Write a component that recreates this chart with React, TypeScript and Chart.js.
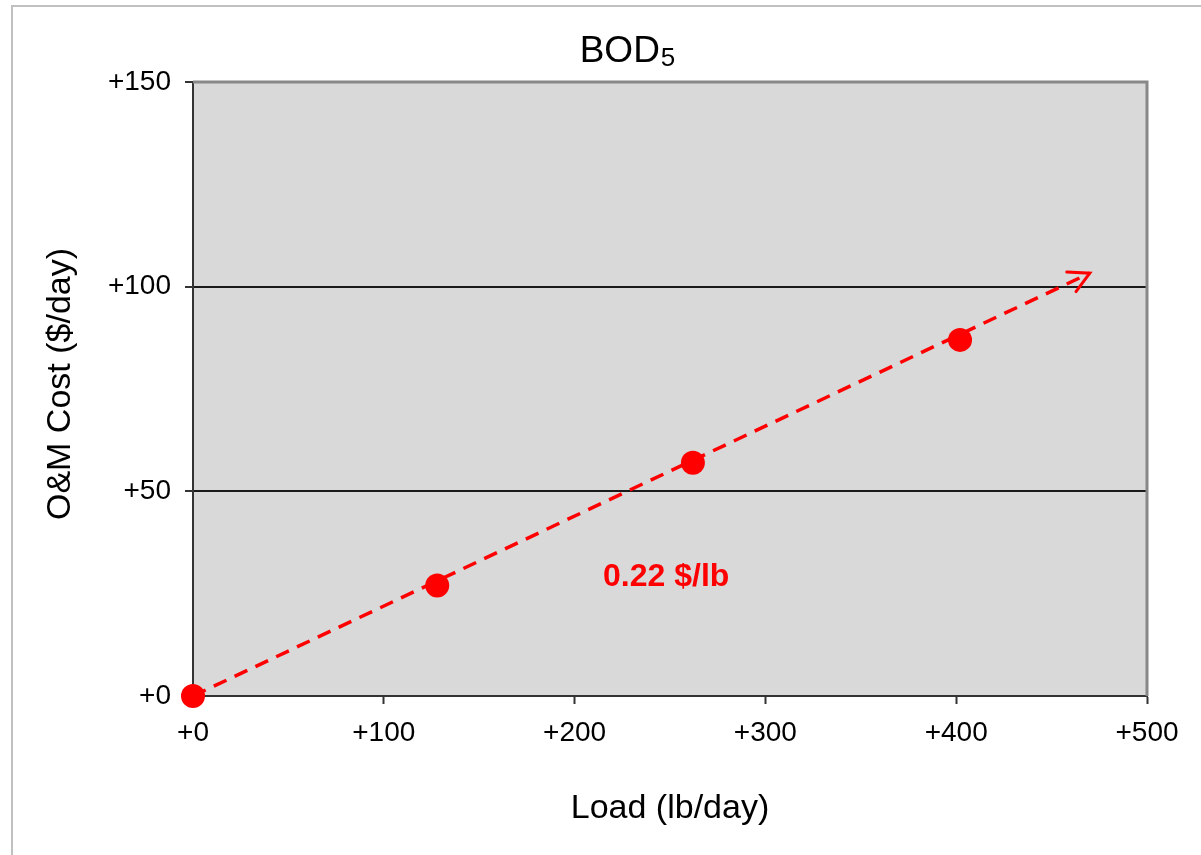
import React, { useEffect, useRef } from "react";
import { Chart, registerables } from "chart.js";

Chart.register(...registerables);

// ---- data ----
const loadX = [0, 128, 262, 402]; // lb/day
const costY = [0, 27, 57, 87]; // $/day
const trendX = [0, 470];
const trendY = [0, 103.3];
const slopeLabel = "0.22 $/lb";
const slopeLabelAt = { x: 248, y: 29 };
const titleMain = "BOD";
const titleSub = "5";
const xTitle = "Load (lb/day)";
const yTitle = "O&M Cost ($/day)";
const xRange = { min: 0, max: 500, step: 100 };
const yRange = { min: 0, max: 150, step: 50 };
const yGridValues = [50, 100];

const FONT = "'Liberation Sans', Arial, sans-serif";
const RED = "#ff0000";

const decor = {
  id: "decor",
  beforeDraw(chart: any) {
    const { ctx, chartArea: a } = chart;
    ctx.save();
    ctx.fillStyle = "#ffffff";
    ctx.fillRect(0, 0, chart.width, chart.height);
    ctx.fillStyle = "#c0c0c0";
    ctx.fillRect(11, 5, chart.width - 11, 2);
    ctx.fillRect(11, 5, 2, chart.height - 5);
    ctx.fillStyle = "#d9d9d9";
    ctx.fillRect(a.left, a.top, a.right - a.left, a.bottom - a.top);
    ctx.restore();
  },
  beforeDatasetsDraw(chart: any) {
    const { ctx, chartArea: a } = chart;
    ctx.save();
    ctx.strokeStyle = "#888888";
    ctx.lineWidth = 3;
    ctx.beginPath();
    ctx.moveTo(a.left, a.top);
    ctx.lineTo(a.right, a.top);
    ctx.lineTo(a.right, a.bottom);
    ctx.stroke();
    ctx.restore();
  },
  afterDatasetsDraw(chart: any) {
    const { ctx, chartArea: a, scales } = chart;
    ctx.save();
    // arrowhead on trend line
    const meta = chart.getDatasetMeta(0);
    const p1 = meta.data[0];
    const p2 = meta.data[meta.data.length - 1];
    const ang = Math.atan2(p2.y - p1.y, p2.x - p1.x);
    const len = 23;
    const spread = (28 * Math.PI) / 180;
    ctx.strokeStyle = RED;
    ctx.lineWidth = 3;
    ctx.lineCap = "round";
    ctx.beginPath();
    ctx.moveTo(p2.x - len * Math.cos(ang - spread), p2.y - len * Math.sin(ang - spread));
    ctx.lineTo(p2.x, p2.y);
    ctx.lineTo(p2.x - len * Math.cos(ang + spread), p2.y - len * Math.sin(ang + spread));
    ctx.stroke();

    // slope annotation
    ctx.fillStyle = RED;
    ctx.font = `bold 32px ${FONT}`;
    ctx.textAlign = "center";
    ctx.textBaseline = "middle";
    ctx.fillText(slopeLabel, scales.x.getPixelForValue(slopeLabelAt.x), scales.y.getPixelForValue(slopeLabelAt.y));

    // title with subscript
    ctx.fillStyle = "#000";
    ctx.textAlign = "left";
    ctx.textBaseline = "alphabetic";
    ctx.font = `37px ${FONT}`;
    const wMain = ctx.measureText(titleMain).width;
    ctx.font = `26px ${FONT}`;
    const wSub = ctx.measureText(titleSub).width;
    const tx = 627 - (wMain + wSub) / 2;
    ctx.font = `37px ${FONT}`;
    ctx.fillText(titleMain, tx, 62);
    ctx.font = `26px ${FONT}`;
    ctx.fillText(titleSub, tx + wMain + 1, 66);

    // axis titles
    ctx.font = `34px ${FONT}`;
    ctx.textAlign = "center";
    ctx.fillText(xTitle, (a.left + a.right) / 2, 818);
    ctx.save();
    ctx.translate(70, 384);
    ctx.rotate(-Math.PI / 2);
    ctx.fillText(yTitle, 0, 0);
    ctx.restore();
    ctx.restore();
  },
};

export default function App() {
  const ref = useRef<HTMLCanvasElement | null>(null);
  useEffect(() => {
    if (!ref.current) return;
    const chart = new Chart(ref.current, {
      type: "scatter",
      data: {
        datasets: [
          {
            type: "line",
            data: trendX.map((x, i) => ({ x, y: trendY[i] })),
            borderColor: RED,
            borderWidth: 3.5,
            borderDash: [14, 9],
            pointRadius: 0,
            fill: false,
            clip: false,
          } as any,
          {
            type: "scatter",
            data: loadX.map((x, i) => ({ x, y: costY[i] })),
            backgroundColor: RED,
            borderColor: RED,
            borderWidth: 0,
            pointRadius: 12,
            clip: false,
          } as any,
        ],
      },
      options: {
        responsive: false,
        animation: false,
        devicePixelRatio: 1,
        layout: { padding: { left: 0, top: 82, right: 54, bottom: 0 } },
        plugins: { legend: { display: false }, tooltip: { enabled: false }, title: { display: false } },
        scales: {
          x: {
            type: "linear",
            min: xRange.min,
            max: xRange.max,
            afterFit: (s: any) => {
              s.height = 159;
            },
            ticks: {
              stepSize: xRange.step,
              padding: 12,
              color: "#000",
              font: { family: FONT, size: 28 },
              callback: (v: any) => "+" + v,
              maxRotation: 0,
            },
            grid: { drawOnChartArea: false, drawTicks: true, tickLength: 8, tickColor: "#333", tickWidth: 2 },
            border: { color: "#333", width: 2 },
          },
          y: {
            type: "linear",
            min: yRange.min,
            max: yRange.max,
            afterFit: (s: any) => {
              s.width = 193;
            },
            ticks: {
              stepSize: yRange.step,
              padding: 14,
              color: "#000",
              font: { family: FONT, size: 28 },
              callback: (v: any) => "+" + v,
            },
            grid: {
              color: (c: any) => (c.tick && yGridValues.includes(c.tick.value) ? "#1a1a1a" : "rgba(0,0,0,0)"),
              lineWidth: 2,
              tickLength: 8,
              tickColor: "#333",
              tickWidth: 2,
            },
            border: { color: "#333", width: 2 },
          },
        },
      },
      plugins: [decor],
    });
    return () => chart.destroy();
  }, []);
  return (
    <div style={{ position: "absolute", left: 0, top: 0, width: 1201, height: 855 }}>
      <canvas ref={ref} width={1201} height={855} style={{ display: "block" }} />
    </div>
  );
}
